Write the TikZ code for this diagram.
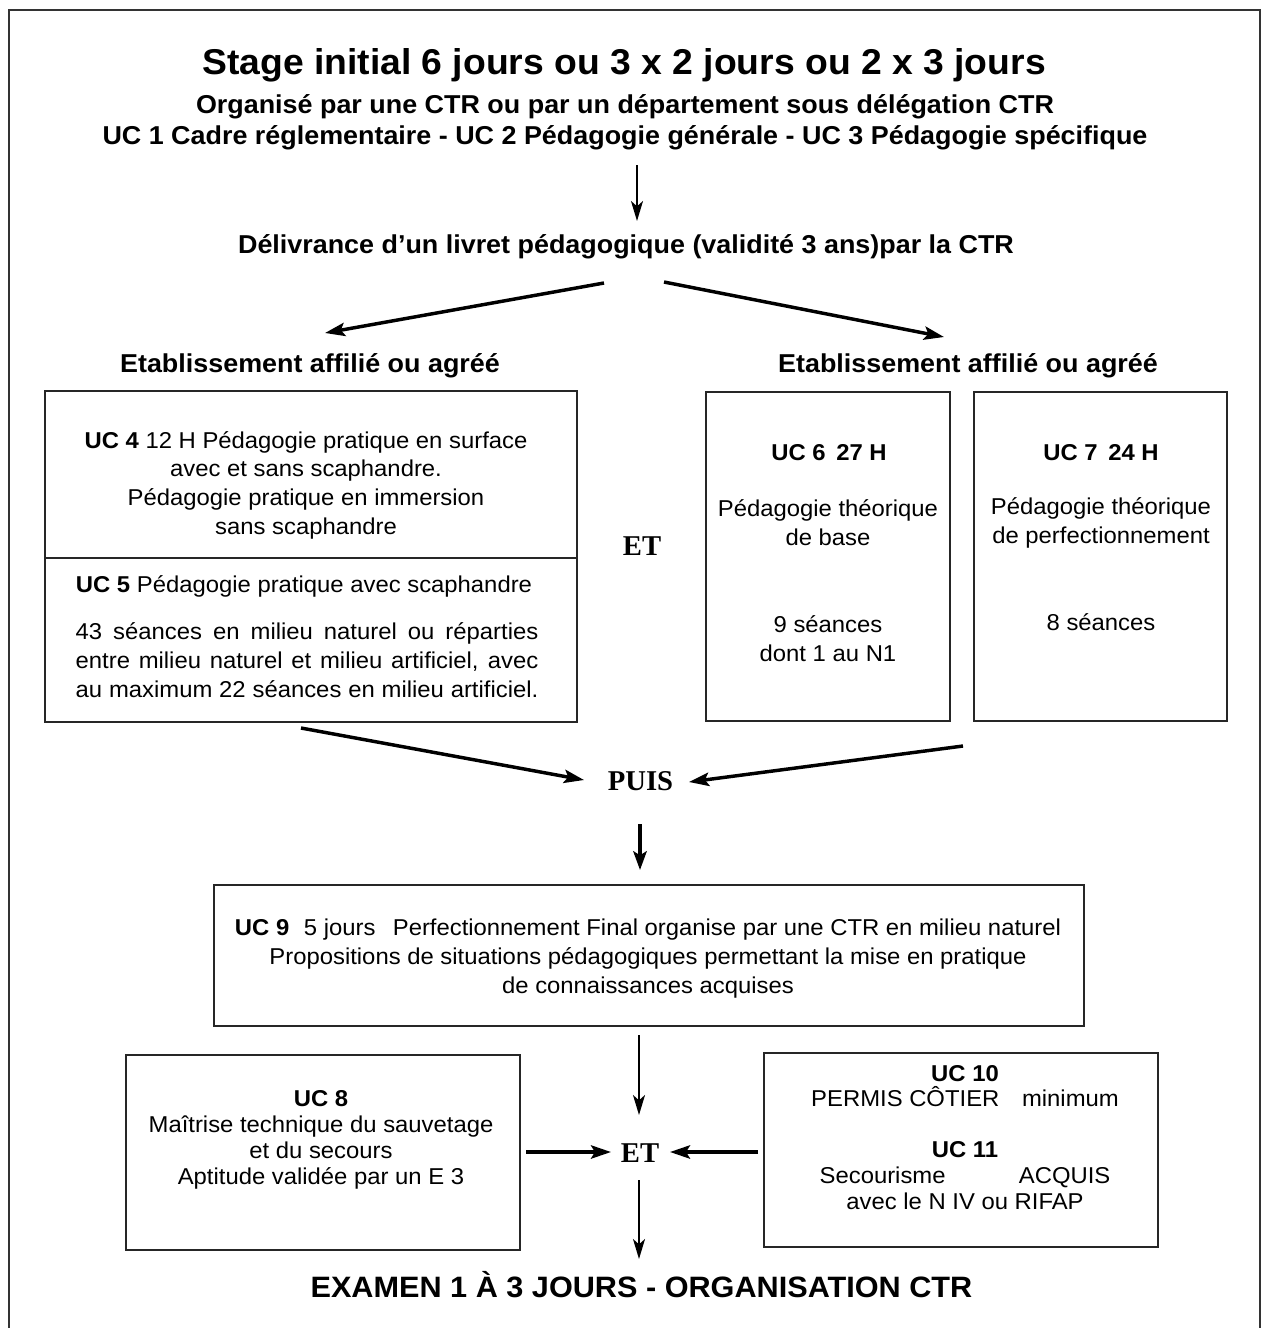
\documentclass[tikz,border=0pt]{standalone}
\usepackage{fontspec}
\setmainfont{Liberation Sans}[FakeStretch=1.04]
\newfontfamily\tnr{Liberation Serif}
\usetikzlibrary{arrows.meta}
\tikzset{
  outerframe/.style={line width=1.5pt, draw=black!80},
  ubox/.style={draw=black!85, line width=1.1pt, inner sep=0pt},
  txt/.style={anchor=base, inner sep=0pt, align=center, font=\fontsize{17.2}{21.4}\selectfont},
  txtb/.style={anchor=base, inner sep=0pt, align=center, font=\fontsize{17.2}{21.4}\selectfont\bfseries},
  headtxt/.style={anchor=base, inner sep=0pt, align=center, font=\fontsize{19.4}{23}\selectfont\bfseries},
  ttl/.style={anchor=base, inner sep=0pt, align=center, font=\fontsize{26.9}{32}\selectfont\bfseries},
  examtxt/.style={anchor=base, inner sep=0pt, align=center, font=\fontsize{22.1}{26}\selectfont\bfseries},
  seriftxt/.style={anchor=base, inner sep=0pt, font=\tnr\fontsize{21.5}{25}\selectfont\bfseries},
  arrthin/.style={line width=1.5pt, -{Stealth[length=15pt,width=9pt,inset=4pt]}},
  arrthick/.style={line width=2.6pt, -{Stealth[length=15pt,width=10pt,inset=3pt]}},
  arrheavy/.style={line width=3.6pt, -{Stealth[length=14pt,width=10pt,inset=3pt]}},
}
\begin{document}
\begin{tikzpicture}[x=0.75pt,y=-0.75pt]
\useasboundingbox (0,0) rectangle (1263,1328);
% outer frame (open at bottom)
\draw[outerframe] (9,1328) -- (9,9.5) -- (1260,9.5) -- (1260,1328);

% header
\node[ttl] (title) at (624,74) {Stage initial 6 jours ou 3 x 2 jours ou 2 x 3 jours};
\node[headtxt] (sub1) at (625,113) {Organisé par une CTR ou par un département sous délégation CTR};
\node[headtxt] (sub2) at (625,144) {UC 1 Cadre réglementaire - UC 2 Pédagogie générale - UC 3 Pédagogie spécifique};
\node[headtxt] (deliv) at (626,253) {Délivrance d’un livret pédagogique (validité 3 ans)par la CTR};
\node[headtxt] (etabL) at (310,372) {Etablissement affilié ou agréé};
\node[headtxt] (etabR) at (968,372) {Etablissement affilié ou agréé};

% boxes
\node[ubox, minimum width=399pt, minimum height=248.25pt] (uc45) at (311,556.5) {};
\draw[draw=black!85, line width=1.1pt] (45,558) -- (577,558);
\node[ubox, minimum width=183pt, minimum height=246.75pt] (uc6) at (828,556.5) {};
\node[ubox, minimum width=189.75pt, minimum height=246.75pt] (uc7) at (1100.5,556.5) {};
\node[ubox, minimum width=652.5pt, minimum height=105.75pt] (uc9) at (649,955.5) {};
\node[ubox, minimum width=295.5pt, minimum height=146.25pt] (uc8) at (323,1152.5) {};
\node[ubox, minimum width=295.5pt, minimum height=145.5pt] (uc1011) at (961,1150) {};

% UC4 / UC5 texts (anchored at the baseline of their last line)
\node[txt] (t4) at (306,534) {\textbf{UC 4} 12 H Pédagogie pratique en surface\\avec et sans scaphandre.\\Pédagogie pratique en immersion\\sans scaphandre};
\node[txt] (t5) at (304,592) {\textbf{UC 5} Pédagogie pratique avec scaphandre};
\node[txt] (t5b) at (307,697) {\makebox[347pt][s]{43 séances en milieu naturel ou réparties}\\\makebox[347pt][s]{entre milieu naturel et milieu artificiel, avec}\\\makebox[347pt][s]{au maximum 22 séances en milieu artificiel.}};

\node[seriftxt] (et1) at (642,555) {ET};

% UC6
\node[txtb] (t6a) at (829,460) {UC 6\hspace{8pt}27 H};
\node[txt] (t6b) at (828,545) {Pédagogie théorique\\de base};
\node[txt] (t6c) at (828,661) {9 séances\\dont 1 au N1};
% UC7
\node[txtb] (t7a) at (1101,460) {UC 7\hspace{8pt}24 H};
\node[txt] (t7b) at (1101,543) {Pédagogie théorique\\de perfectionnement};
\node[txt] (t7c) at (1101,630) {8 séances};

\node[seriftxt] (puis) at (640.5,790) {PUIS};

% UC9
\node[txt, font=\fontsize{17.2}{21.7}\selectfont] (t9) at (648,993) {\textbf{UC 9}\hspace{11pt}5 jours\hspace{13pt}Perfectionnement Final organise par une CTR en milieu naturel\\Propositions de situations pédagogiques permettant la mise en pratique\\de connaissances acquises};

% UC8
\node[txt, font=\fontsize{17.2}{19.3}\selectfont] (t8) at (321,1184) {\textbf{UC 8}\\Maîtrise technique du sauvetage\\et du secours\\Aptitude validée par un E 3};
% UC10/11
\node[txt, font=\fontsize{17.2}{19.2}\selectfont] (t1011) at (965,1209) {\textbf{UC 10}\\PERMIS CÔTIER\hspace{17pt}minimum\\[19pt]\textbf{UC 11}\\Secourisme\hspace{55pt}ACQUIS\\avec le N IV ou RIFAP};

\node[seriftxt] (et2) at (640,1162) {ET};

\node[examtxt] (exam) at (641.5,1297) {EXAMEN 1 À 3 JOURS - ORGANISATION CTR};

% arrow end points
\coordinate (a1s) at (637,165);  \coordinate (a1e) at (637,221);
\coordinate (a2s) at (604,283);  \coordinate (a2e) at (325,333);
\coordinate (a3s) at (664,282);  \coordinate (a3e) at (944,337);
\coordinate (a4s) at (301,728);  \coordinate (a4e) at (584,780);
\coordinate (a5s) at (963,746);  \coordinate (a5e) at (689,782);
\coordinate (a6s) at (640,824);  \coordinate (a6e) at (640,870);
\coordinate (a7s) at (639,1035); \coordinate (a7e) at (639,1115);
\coordinate (a8s) at (526,1152); \coordinate (a8e) at (611,1152);
\coordinate (a9s) at (758,1152); \coordinate (a9e) at (670,1152);
\coordinate (a10s) at (639,1180); \coordinate (a10e) at (639,1259);

\draw[arrthin] (a1s) -- (a1e);
\draw[arrthick] (a2s) -- (a2e);
\draw[arrthick] (a3s) -- (a3e);
\draw[arrthick] (a4s) -- (a4e);
\draw[arrthick] (a5s) -- (a5e);
\draw[arrheavy] (a6s) -- (a6e);
\draw[arrthin] (a7s) -- (a7e);
\draw[arrthick] (a8s) -- (a8e);
\draw[arrthick] (a9s) -- (a9e);
\draw[arrthin] (a10s) -- (a10e);
\end{tikzpicture}
\end{document}
